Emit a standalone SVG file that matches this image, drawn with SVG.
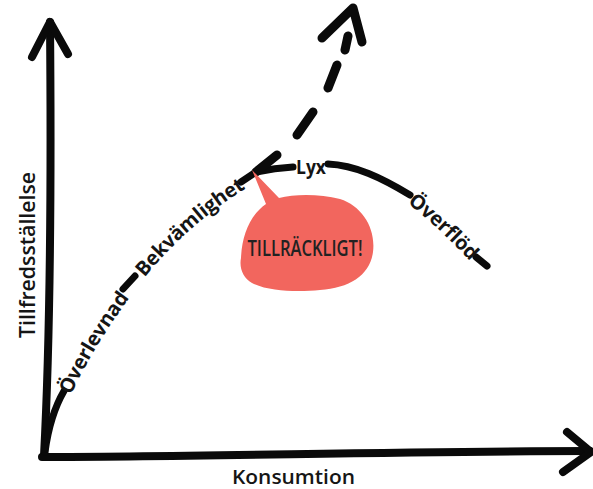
<svg xmlns="http://www.w3.org/2000/svg" width="593" height="489" viewBox="0 0 593 489">
<style>
.ln{fill:none;stroke:#0a0a0a;stroke-linecap:round;stroke-linejoin:round}
.ax{stroke-width:8}
.cv{stroke-width:7}
.ds{stroke-width:9}
.lbl{font-family:"Open Sans","DejaVu Sans",sans-serif;font-weight:600;fill:#151515}
.cl{font-family:"Open Sans","DejaVu Sans",sans-serif;font-weight:700;fill:#151515;font-size:20px}
</style>
<defs>
<path id="pOver" d="M63,393 Q86,343 124,292"/>
<path id="pBek" d="M137,274 Q183,218 241,182"/>
<path id="pOvf" d="M410,195 Q445,222 478,258"/>
</defs>
<rect width="593" height="489" fill="#ffffff"/>
<g id="axis-y">
<path class="ln ax" d="M44,456 C48,380 52,250 50,22"/>
<path class="ln ax" d="M32,57 L50,22 L68,54"/>
<text class="lbl" font-size="21" transform="translate(35,338) rotate(-90)" textLength="166" lengthAdjust="spacingAndGlyphs">Tillfredsställelse</text>
</g>
<g id="axis-x">
<path class="ln ax" d="M42,457 C200,457 400,451 590,451"/>
<path class="ln ax" d="M567,432 L591,452 L563,472"/>
<text class="lbl" font-size="20" x="232" y="484" textLength="123" lengthAdjust="spacingAndGlyphs">Konsumtion</text>
</g>
<g id="connectors">
<path class="ln cv" d="M45,452 Q50,415 64,391"/>
<path class="ln cv" d="M123,289 L135,276"/>
<path class="ln cv" d="M241,182 L256,172 Q275,168 293,167"/>
<path class="ln cv" d="M328,164 C355,165 382,178 410,195"/>
<path class="ln cv" d="M476,257 L487,266"/>
<path class="ln ds" d="M256,172 L277,155 M297,135 L313,112 M328,88 L337,65 M345,50 L348,36"/>
<path class="ln ds" d="M322,38 L353,8 L362,42"/>
</g>
<g id="node-overlevnad">
<text class="cl" dominant-baseline="central"><textPath href="#pOver" startOffset="50%" text-anchor="middle">Överlevnad</textPath></text>
</g>
<g id="node-bekvamlighet">
<text class="cl" dominant-baseline="central"><textPath href="#pBek" startOffset="51%" text-anchor="middle">Bekvämlighet</textPath></text>
</g>
<g id="node-lyx">
<text class="cl" x="311" y="174" text-anchor="middle" font-size="21" textLength="30" lengthAdjust="spacingAndGlyphs">Lyx</text>
</g>
<g id="node-overflod">
<text class="cl" dominant-baseline="central"><textPath href="#pOvf" startOffset="50%" text-anchor="middle">Överflöd</textPath></text>
</g>
<g id="node-tillrackligt">
<path fill="#F2665E" d="M266,204 C250,215 242,235 241,258 C239,268 243,278 252,283 C270,292 300,292 320,290 C350,288 370,275 373,252 C376,228 362,206 340,199 C320,194 295,194 279,198 L252,170 Z"/>
<text x="305" y="256" text-anchor="middle" font-family="'Open Sans','DejaVu Sans',sans-serif" font-weight="600" font-size="22" fill="#222" textLength="115" lengthAdjust="spacingAndGlyphs">TILLRÄCKLIGT!</text>
</g>
</svg>
